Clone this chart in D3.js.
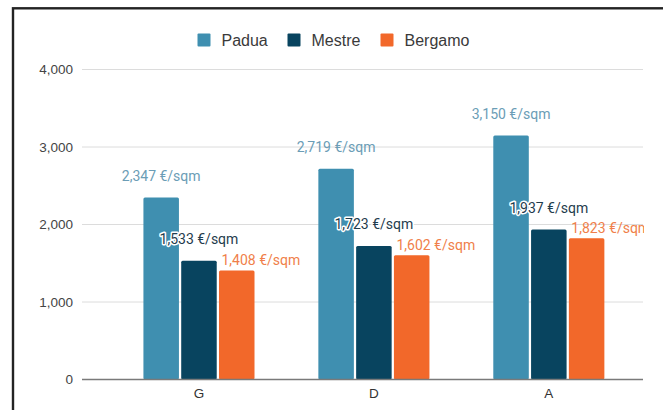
<!DOCTYPE html>
<html>
<head>
<meta charset="utf-8">
<script src="https://cdn.jsdelivr.net/npm/d3@7"></script>
<style>
  html, body { margin: 0; padding: 0; background: #fff; }
  svg { display: block; }
</style>
</head>
<body>
<svg id="chart" width="663" height="410"></svg>
<script>
// Price per square metre by energy class, three cities
const categories = ["G", "D", "A"];
const seriesNames = ["Padua", "Mestre", "Bergamo"];
const padua = [2347, 2719, 3150];
const mestre = [1533, 1723, 1937];
const bergamo = [1408, 1602, 1823];
const yTicks = [0, 1000, 2000, 3000, 4000];
const labelSuffix = " €/sqm";

const seriesValues = [padua, mestre, bergamo];
const barColors = ["#3f8fb0", "#08445f", "#f2682a"];
const labelColors = ["#6b9db6", "#1f3c4d", "#f07f4a"];

const svg = d3.select("#chart");

// outer frame
svg.append("rect")
  .attr("x", 13).attr("y", 8.3)
  .attr("width", 700).attr("height", 450)
  .attr("fill", "none").attr("stroke", "#232323").attr("stroke-width", 2.4);

const plotLeft = 82, plotRight = 643;
const y = d3.scaleLinear().domain([0, 4000]).range([379.5, 69.5]);

const x = d3.scaleBand()
  .domain(categories)
  .range([111.5, 636.3])
  .paddingInner(0.365)
  .paddingOuter(0.1825);

const xs = d3.scaleBand()
  .domain(seriesNames)
  .range([0, x.bandwidth()])
  .paddingInner(0.06);

// gridlines
const grid = svg.append("g");
grid.selectAll("line")
  .data(yTicks.filter(t => t !== 0))
  .join("line")
  .attr("x1", plotLeft).attr("x2", plotRight)
  .attr("y1", d => y(d)).attr("y2", d => y(d))
  .attr("stroke", "#dcdcdc").attr("stroke-width", 1);

// y axis labels
const yAxis = svg.append("g")
  .attr("transform", `translate(${plotLeft - 9},0)`)
  .call(d3.axisLeft(y).tickValues(yTicks).tickFormat(d3.format(",")).tickSize(0).tickPadding(0));
yAxis.select(".domain").remove();
yAxis.selectAll("text")
  .attr("font-family", "Liberation Sans, Arial, sans-serif")
  .attr("font-size", 13.5)
  .attr("fill", "#444");

// bars
const rows = [];
categories.forEach((c, i) => {
  seriesNames.forEach((s, j) => {
    rows.push({ cat: c, series: s, si: j, value: seriesValues[j][i] });
  });
});

const barsG = svg.append("g");
barsG.selectAll("rect")
  .data(rows)
  .join("rect")
  .attr("x", d => x(d.cat) + xs(d.series))
  .attr("y", d => y(d.value))
  .attr("width", xs.bandwidth())
  .attr("height", d => y(0) - y(d.value))
  .attr("rx", 1.5)
  .attr("fill", d => barColors[d.si]);

// baseline
svg.append("line")
  .attr("x1", plotLeft).attr("x2", plotRight)
  .attr("y1", y(0)).attr("y2", y(0))
  .attr("stroke", "#7a7a7a").attr("stroke-width", 1.3);

// x axis labels
const xAxis = svg.append("g")
  .attr("transform", `translate(0,${y(0) + 8})`)
  .call(d3.axisBottom(x).tickSize(0).tickPadding(0));
xAxis.select(".domain").remove();
xAxis.selectAll("text")
  .attr("font-family", "Liberation Sans, Arial, sans-serif")
  .attr("font-size", 13.5)
  .attr("fill", "#333")
  .attr("dy", "0.78em");

// value labels
svg.append("clipPath").attr("id", "plotClip")
  .append("rect").attr("x", 0).attr("y", 0).attr("width", plotRight + 1).attr("height", 410);

const fmt = d3.format(",");
const labels = svg.append("g").attr("clip-path", "url(#plotClip)");
labels.selectAll("text")
  .data(rows)
  .join("text")
  .attr("font-family", "Roboto, sans-serif")
  .attr("font-size", 14)
  .attr("fill", d => labelColors[d.si])
  .attr("stroke", d => d.si === 1 ? "#fff" : "none")
  .attr("stroke-width", 3)
  .attr("stroke-linejoin", "round")
  .attr("paint-order", "stroke")
  .attr("text-anchor", d => d.si === 2 ? "start" : "middle")
  .attr("x", d => d.si === 2
    ? x(d.cat) + xs(d.series) + 2.5
    : x(d.cat) + xs(d.series) + xs.bandwidth() / 2)
  .attr("y", d => y(d.value) - (d.si === 2 ? 5.5 : 16.5))
  .text(d => fmt(d.value) + labelSuffix);

// legend
const legendItems = [
  { name: "Padua", x: 197.5 },
  { name: "Mestre", x: 287.5 },
  { name: "Bergamo", x: 380.5 }
];
const legend = svg.append("g");
legendItems.forEach((it, i) => {
  legend.append("rect")
    .attr("x", it.x).attr("y", 33.5)
    .attr("width", 13).attr("height", 13)
    .attr("rx", 1)
    .attr("fill", barColors[i]);
  legend.append("text")
    .attr("x", it.x + 24).attr("y", 46)
    .attr("font-family", "Liberation Sans, Arial, sans-serif")
    .attr("font-size", 16)
    .attr("fill", "#3a3a3a")
    .text(it.name);
});
</script>
</body>
</html>
